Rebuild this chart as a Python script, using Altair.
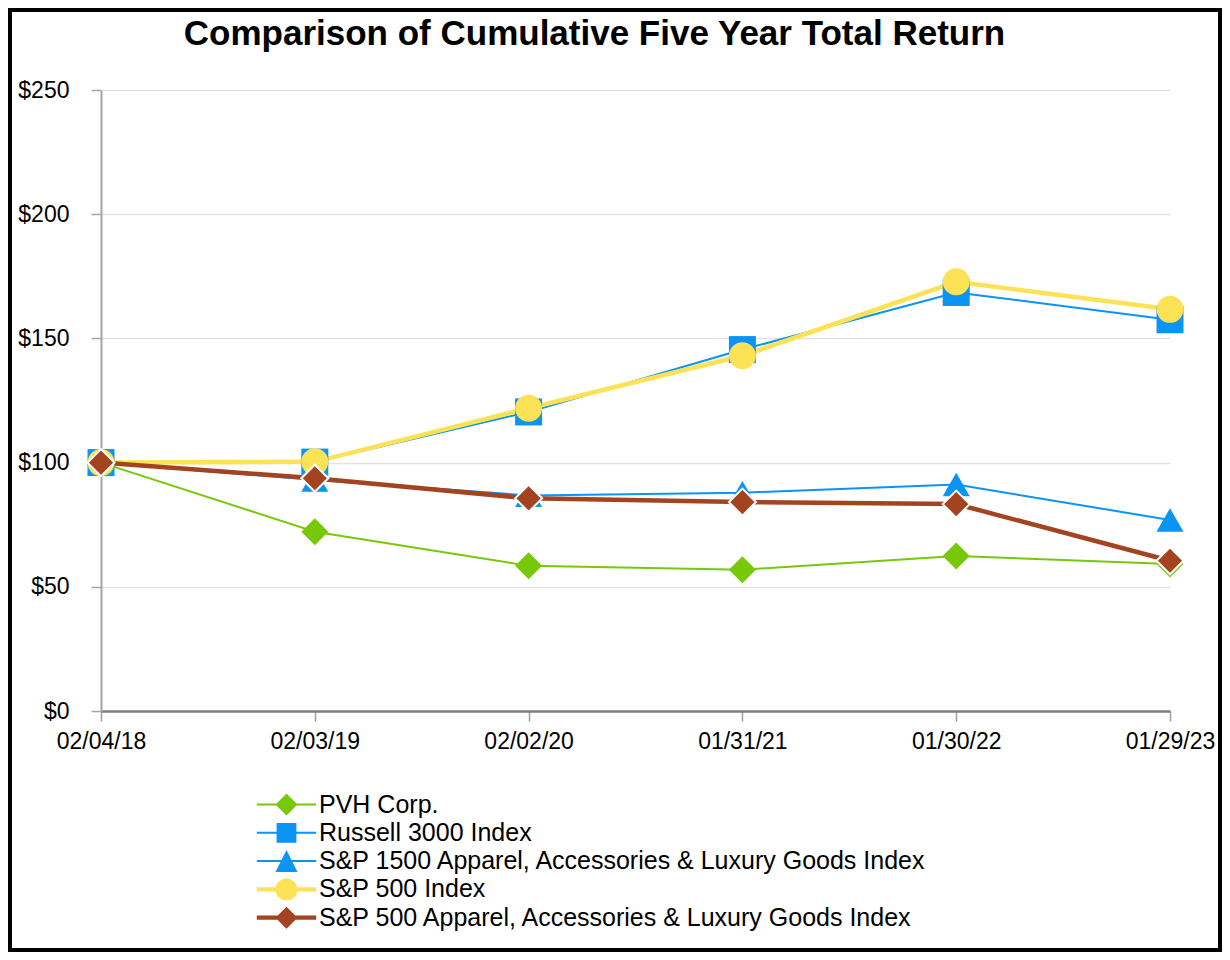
import altair as alt
import pandas as pd

title_text = "Comparison of Cumulative Five Year Total Return"
dates = ["02/04/18", "02/03/19", "02/02/20", "01/31/21", "01/30/22", "01/29/23"]
series = [
    "PVH Corp.",
    "Russell 3000 Index",
    "S&P 1500 Apparel, Accessories & Luxury Goods Index",
    "S&P 500 Index",
    "S&P 500 Apparel, Accessories & Luxury Goods Index",
]
pvh = [100, 72.2, 58.5, 56.9, 62.4, 59.2]
russell = [100, 100.2, 120.4, 145.5, 168.5, 157.5]
sp1500_apparel = [100, 93.0, 86.8, 87.9, 91.2, 76.9]
sp500 = [100, 100.3, 121.9, 143.0, 172.8, 161.7]
sp500_apparel = [100, 93.7, 85.6, 84.1, 83.3, 60.5]
y_ticks = [0, 50, 100, 150, 200, 250]

colors = ["#78C80A", "#0A94F5", "#0A94F5", "#FDE256", "#A4431F"]
thick_series = [series[3], series[4]]
shapes = ["diamond", "square", "triangle-up", "circle", "diamond"]
sizes = [729, 729, 729, 650, 800]

# legend symbols: line segment plus marker (unit coords)
thin = "M-2.7,-0.09H2.7V0.09H-2.7Z"
thick = "M-2.7,-0.19H2.7V0.19H-2.7Z"
legend_paths = [
    thin + " M0,-1L1,0L0,1L-1,0Z",
    thin + " M-0.9,-0.9H0.9V0.9H-0.9Z",
    thin + " M0,-1L1,1H-1Z",
    thick + " M1,0A1,1,0,1,1,-1,0A1,1,0,1,1,1,0Z",
    thick + " M0,-1L1,0L0,1L-1,0Z",
]

rows = []
for name, vals in zip(series, [pvh, russell, sp1500_apparel, sp500, sp500_apparel]):
    for d, v in zip(dates, vals):
        rows.append({"series": name, "date": d, "value": v})
df = pd.DataFrame(rows)

FONT = "Liberation Sans"

x_enc = alt.X(
    "date:O",
    sort=dates,
    scale=alt.Scale(type="point", padding=0),
    axis=alt.Axis(
        title=None, labelAngle=0, grid=False,
        domainColor="#7F7F7F", domainWidth=2.5,
        tickColor="#A0A0A0", tickSize=10, tickWidth=1.5,
        labelPadding=9, labelFontSize=23, labelFont=FONT, labelColor="black",
    ),
)
y_enc = alt.Y(
    "value:Q",
    scale=alt.Scale(domain=[0, 250], nice=False, zero=True),
    axis=alt.Axis(
        title=None, values=y_ticks, labelExpr="'$' + datum.value",
        grid=True, gridColor="#E3E3E3", gridWidth=1.5,
        domainColor="#A6A6A6", domainWidth=2,
        tickColor="#A6A6A6", tickSize=10, tickWidth=1.5,
        labelPadding=22, labelFontSize=23, labelFont=FONT, labelColor="black",
    ),
)

frame = alt.Chart(pd.DataFrame({"f": [0]})).mark_rect(
    filled=False, stroke="black", strokeWidth=4
).encode(
    x=alt.value(-91), x2=alt.value(1119), y=alt.value(-80), y2=alt.value(860)
)

title = alt.Chart(pd.DataFrame({"t": [title_text]})).mark_text(
    font=FONT, fontSize=35, fontWeight="bold", color="black",
    align="center", baseline="alphabetic",
).encode(
    text="t:N", x=alt.value(493.5), y=alt.value(-45)
)

thick_test = " || ".join(f"datum.series == '{s}'" for s in thick_series)
lines = alt.Chart(df).mark_line().encode(
    x=x_enc,
    y=y_enc,
    color=alt.Color("series:N", scale=alt.Scale(domain=series, range=colors), legend=None),
    strokeWidth=alt.condition(thick_test, alt.value(4.5), alt.value(2)),
)

brown = series[4]
points = alt.Chart(df).mark_point(filled=True, opacity=1, stroke="white").encode(
    x=x_enc,
    y=y_enc,
    fill=alt.Fill("series:N", scale=alt.Scale(domain=series, range=colors), legend=None),
    shape=alt.Shape("series:N", scale=alt.Scale(domain=series, range=shapes), legend=None),
    size=alt.Size("series:O", scale=alt.Scale(domain=series, range=sizes), legend=None),
    strokeWidth=alt.condition(alt.datum.series == brown, alt.value(2), alt.value(0)),
)

legend_common = dict(
    title=None, orient="none", legendX=173, legendY=702,
    labelFont=FONT, labelFontSize=25, labelColor="black", labelLimit=900,
    labelOffset=20, symbolSize=484, symbolStrokeWidth=0, symbolOpacity=1,
    rowPadding=2.3, padding=0,
)
legend_layer = alt.Chart(df).mark_point(filled=True, opacity=0, size=484).encode(
    x=x_enc,
    y=y_enc,
    fill=alt.Fill("series:N", scale=alt.Scale(domain=series, range=colors), legend=alt.Legend(**legend_common)),
    shape=alt.Shape("series:N", scale=alt.Scale(domain=series, range=legend_paths), legend=alt.Legend(**legend_common)),
)

chart = alt.layer(frame, title, lines, points, legend_layer).resolve_scale(
    fill="independent", shape="independent"
).properties(
    width=1069,
    height=621,
    autosize=alt.AutoSizeParams(type="none"),
    padding={"left": 93, "top": 82, "right": 52, "bottom": 241},
    background="white",
).configure_view(stroke=None)

chart.save("out.html", embed_options={"renderer": "svg", "actions": False})
